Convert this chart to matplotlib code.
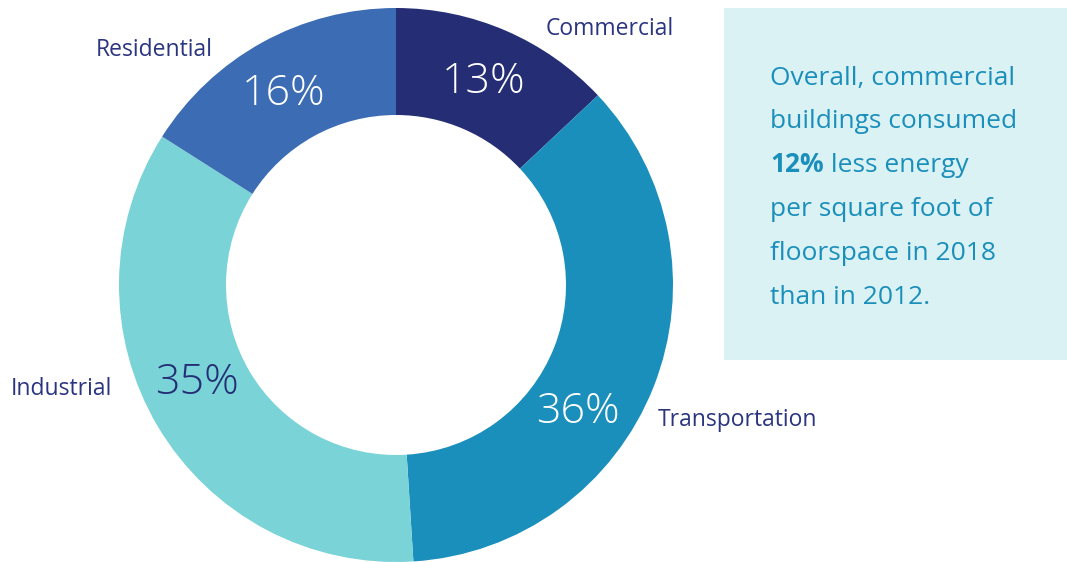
import numpy as np
import matplotlib.pyplot as plt
from matplotlib.patches import Rectangle

plt.rcParams['font.family'] = ['Open Sans', 'DejaVu Sans']

sectors = ['Commercial', 'Transportation', 'Industrial', 'Residential']
shares = [13, 36, 35, 16]
colors = ['#252e75', '#1b8fbb', '#79d3d7', '#3c6cb4']
pct_colors = ['white', 'white', '#252e75', 'white']
# small angular nudges (degrees) of the percent labels off the wedge middle
pct_nudge = [0, -13.4, -4.5, 1.7]

W, H = 1067, 562
fig = plt.figure(figsize=(W / 100, H / 100), dpi=100)
ax = fig.add_axes([0, 0, 1, 1])

cx, cy, R = 396, H - 285, 277
wedges, _ = ax.pie(shares, colors=colors, startangle=90, counterclock=False,
                   center=(cx, cy), radius=R,
                   wedgeprops=dict(width=107, linewidth=0))
ax.set_xlim(0, W)
ax.set_ylim(0, H)
ax.set_aspect('equal')
ax.axis('off')

# percent labels inside the ring
for w, s, c, d in zip(wedges, shares, pct_colors, pct_nudge):
    ang = np.deg2rad((w.theta1 + w.theta2) / 2 + d)
    r = 0.8 * R
    ax.text(cx + r * np.cos(ang), cy + r * np.sin(ang), f'{s}%', color=c,
            fontsize=31, fontweight='light', ha='center', va='center')

# category labels outside the ring
label_pos = {'Commercial': (610, 29), 'Transportation': (737, 420),
             'Industrial': (61, 389), 'Residential': (154, 50)}
for name in sectors:
    x, y = label_pos[name]
    ax.text(x, H - y, name, color='#2b3580', fontsize=16.5,
            ha='center', va='center')

# side note box
ax.add_patch(Rectangle((724, H - 360), W - 724, 352, color='#dbf2f5', lw=0))
note_color = '#1b8fbb'
fs = 19
lines_y = [78, 121, 165, 210, 254, 298]
ax.text(770, H - lines_y[0], 'Overall, commercial', color=note_color, fontsize=fs, va='center')
ax.text(770, H - lines_y[1], 'buildings consumed', color=note_color, fontsize=fs, va='center')
bold = ax.text(770, H - lines_y[2], '12%', color=note_color, fontsize=fs,
               fontweight='bold', va='center')
fig.canvas.draw()
bb = bold.get_window_extent().transformed(ax.transData.inverted())
ax.text(bb.x1, H - lines_y[2], ' less energy', color=note_color, fontsize=fs, va='center')
ax.text(770, H - lines_y[3], 'per square foot of', color=note_color, fontsize=fs, va='center')
ax.text(770, H - lines_y[4], 'floorspace in 2018', color=note_color, fontsize=fs, va='center')
ax.text(770, H - lines_y[5], 'than in 2012.', color=note_color, fontsize=fs, va='center')

fig.savefig('out.png', dpi=100)
